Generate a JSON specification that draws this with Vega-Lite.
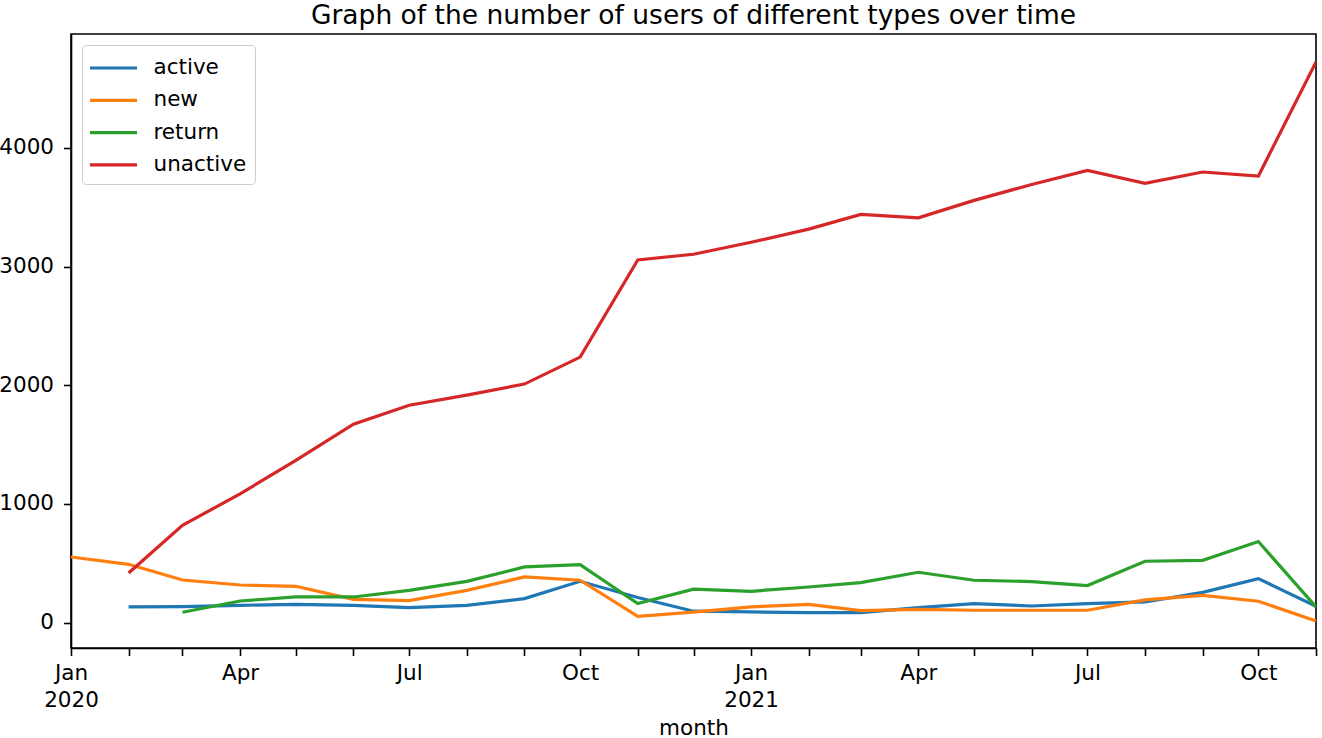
{
  "$schema": "https://vega.github.io/schema/vega-lite/v6.json",
  "width": 1245,
  "height": 614,
  "autosize": {"type": "none"},
  "padding": {"left": 71, "top": 34, "right": 6, "bottom": 90},
  "background": "white",
  "title": {
    "text": "Graph of the number of users of different types over time",
    "fontSize": 26.5,
    "font": "DejaVu Sans",
    "fontWeight": "normal",
    "color": "black",
    "offset": 5
  },
  "config": {
    "font": "DejaVu Sans",
    "view": {"stroke": "black", "strokeWidth": 1.6},
    "axis": {
      "grid": false,
      "domainColor": "black",
      "domainWidth": 1.6,
      "tickColor": "black",
      "tickWidth": 1.6,
      "tickSize": 7.5,
      "labelColor": "black",
      "labelFontSize": 21.5,
      "labelFont": "DejaVu Sans",
      "labelPadding": 7,
      "titleColor": "black",
      "titleFont": "DejaVu Sans",
      "titleFontSize": 21.5,
      "titleFontWeight": "normal"
    },
    "legend": {
      "orient": "none",
      "legendX": 11,
      "legendY": 11,
      "title": null,
      "symbolType": "M-1.78,0H1.78",
      "symbolSize": 700,
      "symbolStrokeWidth": 3.2,
      "symbolOffset": 8.5,
      "labelFontSize": 21.5,
      "labelFont": "DejaVu Sans",
      "labelColor": "black",
      "labelOffset": 25,
      "rowPadding": 6.3,
      "padding": 8,
      "strokeColor": "#cccccc",
      "fillColor": "white",
      "cornerRadius": 4
    }
  },
  "data": {
    "values": [
      {"month": "2020-02-01", "type": "active", "users": 132},
      {"month": "2020-03-01", "type": "active", "users": 134},
      {"month": "2020-04-01", "type": "active", "users": 146},
      {"month": "2020-05-01", "type": "active", "users": 154},
      {"month": "2020-06-01", "type": "active", "users": 146},
      {"month": "2020-07-01", "type": "active", "users": 126},
      {"month": "2020-08-01", "type": "active", "users": 146},
      {"month": "2020-09-01", "type": "active", "users": 202},
      {"month": "2020-10-01", "type": "active", "users": 348},
      {"month": "2020-11-01", "type": "active", "users": 211},
      {"month": "2020-12-01", "type": "active", "users": 96},
      {"month": "2021-01-01", "type": "active", "users": 90},
      {"month": "2021-02-01", "type": "active", "users": 84},
      {"month": "2021-03-01", "type": "active", "users": 84},
      {"month": "2021-04-01", "type": "active", "users": 126},
      {"month": "2021-05-01", "type": "active", "users": 160},
      {"month": "2021-06-01", "type": "active", "users": 140},
      {"month": "2021-07-01", "type": "active", "users": 160},
      {"month": "2021-08-01", "type": "active", "users": 174},
      {"month": "2021-09-01", "type": "active", "users": 255},
      {"month": "2021-10-01", "type": "active", "users": 371},
      {"month": "2021-11-01", "type": "active", "users": 137},

      {"month": "2020-01-01", "type": "new", "users": 553},
      {"month": "2020-02-01", "type": "new", "users": 491},
      {"month": "2020-03-01", "type": "new", "users": 359},
      {"month": "2020-04-01", "type": "new", "users": 317},
      {"month": "2020-05-01", "type": "new", "users": 306},
      {"month": "2020-06-01", "type": "new", "users": 196},
      {"month": "2020-07-01", "type": "new", "users": 185},
      {"month": "2020-08-01", "type": "new", "users": 272},
      {"month": "2020-09-01", "type": "new", "users": 385},
      {"month": "2020-10-01", "type": "new", "users": 357},
      {"month": "2020-11-01", "type": "new", "users": 53},
      {"month": "2020-12-01", "type": "new", "users": 89},
      {"month": "2021-01-01", "type": "new", "users": 132},
      {"month": "2021-02-01", "type": "new", "users": 154},
      {"month": "2021-03-01", "type": "new", "users": 101},
      {"month": "2021-04-01", "type": "new", "users": 112},
      {"month": "2021-05-01", "type": "new", "users": 104},
      {"month": "2021-06-01", "type": "new", "users": 104},
      {"month": "2021-07-01", "type": "new", "users": 104},
      {"month": "2021-08-01", "type": "new", "users": 191},
      {"month": "2021-09-01", "type": "new", "users": 230},
      {"month": "2021-10-01", "type": "new", "users": 180},
      {"month": "2021-11-01", "type": "new", "users": 14},

      {"month": "2020-03-01", "type": "return", "users": 87},
      {"month": "2020-04-01", "type": "return", "users": 182},
      {"month": "2020-05-01", "type": "return", "users": 216},
      {"month": "2020-06-01", "type": "return", "users": 216},
      {"month": "2020-07-01", "type": "return", "users": 272},
      {"month": "2020-08-01", "type": "return", "users": 348},
      {"month": "2020-09-01", "type": "return", "users": 469},
      {"month": "2020-10-01", "type": "return", "users": 489},
      {"month": "2020-11-01", "type": "return", "users": 160},
      {"month": "2020-12-01", "type": "return", "users": 282},
      {"month": "2021-01-01", "type": "return", "users": 264},
      {"month": "2021-02-01", "type": "return", "users": 300},
      {"month": "2021-03-01", "type": "return", "users": 337},
      {"month": "2021-04-01", "type": "return", "users": 424},
      {"month": "2021-05-01", "type": "return", "users": 357},
      {"month": "2021-06-01", "type": "return", "users": 346},
      {"month": "2021-07-01", "type": "return", "users": 312},
      {"month": "2021-08-01", "type": "return", "users": 517},
      {"month": "2021-09-01", "type": "return", "users": 525},
      {"month": "2021-10-01", "type": "return", "users": 683},
      {"month": "2021-11-01", "type": "return", "users": 132},

      {"month": "2020-02-01", "type": "unactive", "users": 418},
      {"month": "2020-03-01", "type": "unactive", "users": 820},
      {"month": "2020-04-01", "type": "unactive", "users": 1085},
      {"month": "2020-05-01", "type": "unactive", "users": 1368},
      {"month": "2020-06-01", "type": "unactive", "users": 1672},
      {"month": "2020-07-01", "type": "unactive", "users": 1832},
      {"month": "2020-08-01", "type": "unactive", "users": 1917},
      {"month": "2020-09-01", "type": "unactive", "users": 2010},
      {"month": "2020-10-01", "type": "unactive", "users": 2237},
      {"month": "2020-11-01", "type": "unactive", "users": 3056},
      {"month": "2020-12-01", "type": "unactive", "users": 3104},
      {"month": "2021-01-01", "type": "unactive", "users": 3205},
      {"month": "2021-02-01", "type": "unactive", "users": 3316},
      {"month": "2021-03-01", "type": "unactive", "users": 3440},
      {"month": "2021-04-01", "type": "unactive", "users": 3411},
      {"month": "2021-05-01", "type": "unactive", "users": 3558},
      {"month": "2021-06-01", "type": "unactive", "users": 3692},
      {"month": "2021-07-01", "type": "unactive", "users": 3810},
      {"month": "2021-08-01", "type": "unactive", "users": 3702},
      {"month": "2021-09-01", "type": "unactive", "users": 3797},
      {"month": "2021-10-01", "type": "unactive", "users": 3763},
      {"month": "2021-11-01", "type": "unactive", "users": 4725}
    ]
  },
  "mark": {"type": "line", "strokeWidth": 3.2, "clip": true},
  "encoding": {
    "x": {
      "field": "month",
      "type": "temporal",
      "scale": {
        "type": "utc",
        "domain": [
          {"year": 2020, "month": 1, "date": 1, "utc": true},
          {"year": 2021, "month": 11, "date": 1, "utc": true}
        ]
      },
      "axis": {
        "title": "month",
        "titlePadding": 6,
        "tickCount": {"interval": "month", "step": 1},
        "labelExpr": "utcmonth(datum.value) == 0 ? ['Jan', utcFormat(datum.value, '%Y')] : (utcmonth(datum.value) % 3 == 0 ? utcFormat(datum.value, '%b') : '')",
        "labelAlign": "center",
        "labelBaseline": "top",
        "labelLineHeight": 27,
        "labelFlush": false,
        "labelOverlap": false
      }
    },
    "y": {
      "field": "users",
      "type": "quantitative",
      "scale": {"domain": [-214, 4960], "nice": false, "zero": false},
      "axis": {"title": null, "values": [0, 1000, 2000, 3000, 4000], "format": "d", "labelPadding": 10}
    },
    "color": {
      "field": "type",
      "type": "nominal",
      "scale": {
        "domain": ["active", "new", "return", "unactive"],
        "range": ["#1f77b4", "#ff7f0e", "#2ca02c", "#d62728"]
      }
    }
  }
}
